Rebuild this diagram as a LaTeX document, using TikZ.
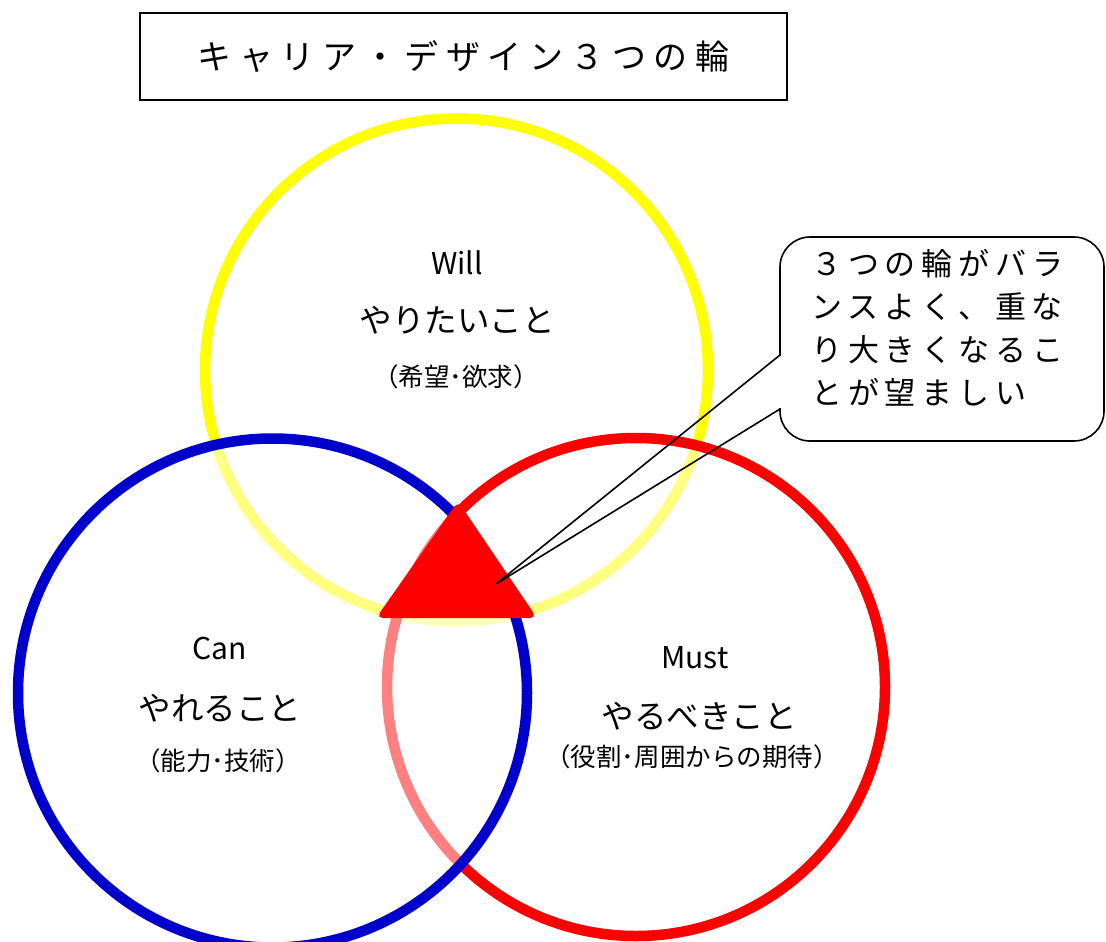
\documentclass[tikz,border=0pt]{standalone}
\usepackage{fontspec}
\newfontfamily\jp{Noto Sans CJK JP}
\newfontfamily\jpsp[LetterSpace=19]{Noto Sans CJK JP}
\newfontfamily\jptitle[LetterSpace=22]{Noto Sans CJK JP}
\definecolor{cyellow}{RGB}{255,255,0}
\definecolor{cblue}{RGB}{0,0,204}
\definecolor{cred}{RGB}{255,0,0}
\begin{document}
\begin{tikzpicture}[x=1pt,y=-1pt,
  ring/.style={circle, inner sep=0pt, outer sep=0pt, line width=10.5pt, fill=white, fill opacity=0.5},
  head/.style={font=\jp\fontsize{30}{30}\selectfont, inner sep=0pt},
  big/.style={font=\jp\fontsize{32.5}{32.5}\selectfont, inner sep=0pt},
  small/.style={font=\jp\fontsize{25.5}{25.5}\selectfont, inner sep=0pt},
  outline/.style={line width=1.6pt, draw=black}]
\useasboundingbox (0,0) rectangle (1106,942);
% rings: yellow, red, blue (each with a translucent white fill)
\node[ring, draw=cyellow, minimum size=503pt] (will) at (456.5,370) {};
\node[ring, draw=cred, minimum size=498pt] (must) at (636,687) {};
\node[ring, draw=cblue, minimum size=509pt] (can) at (272.5,693) {};
% triangle
\coordinate (t1) at (458,503);
\coordinate (t2) at (535,617);
\coordinate (t3) at (378,617);
\coordinate (tip) at (496,584);
\fill[cred, draw=cred, line width=2pt, rounded corners=5pt] (t1) -- (t2) -- (t3) -- cycle;
% labels
\node[head] (willen) at (457,263) {Will};
\node[big] (willjp) at (457,320) {やりたいこと};
\node[small] (willsub) at (456,377) {（希望･欲求）};
\node[head] (canen) at (220,648) {Can};
\node[big] (canjp) at (220,708) {やれること};
\node[small] (cansub) at (218,761) {（能力･技術）};
\node[head] (musten) at (695,658) {Must};
\node[big] (mustjp) at (699,716) {やるべきこと};
\node[small] (mustsub) at (692,757) {（役割･周囲からの期待）};
% title
\node[outline, draw, minimum width=647pt, minimum height=87pt, inner sep=0pt,
      font=\jptitle\fontsize{34}{34}\selectfont] (title) at (463.5,56.5) {キャリア・デザイン３つの輪};
% callout
\node[outline, draw, fill=white, rounded corners=30pt, minimum width=324pt, minimum height=204pt, inner sep=0pt] (callout) at (942,339) {};
\coordinate (b1) at (780,355);
\coordinate (b2) at (780,409);
\fill[white] (778.5,356) rectangle (782,408);
\draw[outline, line join=miter] (b1) -- (tip) -- (b2);
\node[anchor=north west, align=left, inner sep=0pt, font=\jpsp\fontsize{31}{43}\selectfont] (ctext) at (811,249)
  {３つの輪がバラ\\ンスよく、重な\\り大きくなるこ\\とが望ましい};
\end{tikzpicture}
\end{document}
